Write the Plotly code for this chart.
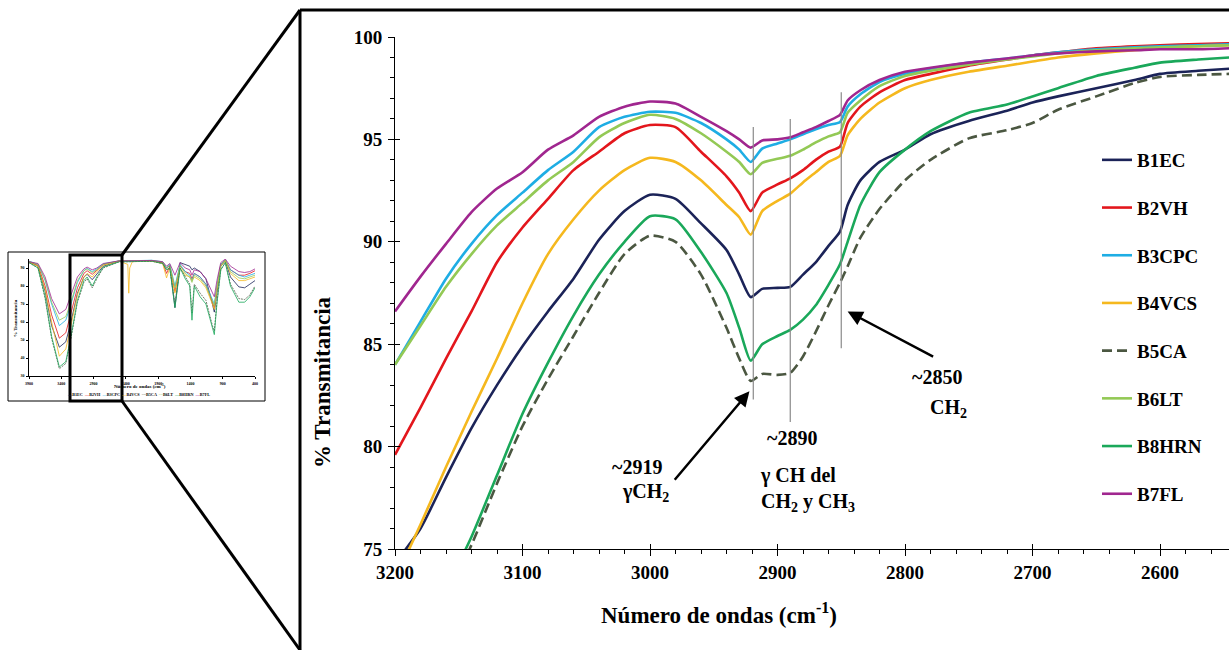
import plotly.graph_objects as go

W, H = 1229, 650

# ---- espectro ampliado (3200-2545 cm-1) ----
WN = [3200, 3180, 3160, 3140, 3120, 3100, 3080, 3060, 3040, 3020, 3000, 2980, 2960,
      2940, 2930, 2921, 2912, 2900, 2890, 2880, 2870, 2860, 2851, 2845, 2835, 2820,
      2800, 2780, 2750, 2720, 2700, 2680, 2650, 2620, 2600, 2570, 2545]

B1EC = [74.3, 76.0, 78.5, 80.9, 83.0, 84.9, 86.6, 88.2, 90.1, 91.5, 92.3, 92.1, 90.9,
        89.6, 88.4, 87.3, 87.7, 87.75, 87.8, 88.4, 89.0, 89.8, 90.5, 91.8, 93.0, 93.9,
        94.5, 95.25, 95.9, 96.4, 96.8, 97.1, 97.5, 97.9, 98.2, 98.35, 98.45]
B2VH = [79.6, 81.9, 84.3, 86.6, 89.0, 90.7, 92.1, 93.5, 94.4, 95.3, 95.7, 95.6, 94.4,
        93.2, 92.4, 91.5, 92.4, 92.8, 93.1, 93.5, 94.0, 94.4, 94.65, 95.8, 96.6, 97.3,
        97.9, 98.2, 98.6, 98.9, 99.1, 99.25, 99.45, 99.55, 99.6, 99.65, 99.7]
B3CPC = [84.0, 86.1, 88.2, 89.9, 91.3, 92.4, 93.5, 94.4, 95.6, 96.1, 96.35, 96.3, 95.8,
         95.0, 94.5, 93.9, 94.55, 94.8, 95.0, 95.25, 95.5, 95.7, 95.85, 96.6, 97.2, 97.8,
         98.2, 98.45, 98.75, 98.95, 99.1, 99.25, 99.4, 99.5, 99.55, 99.6, 99.65]
B4VCS = [73.5, 76.2, 79.0, 81.7, 84.3, 87.0, 89.4, 91.1, 92.5, 93.5, 94.1, 93.9, 93.0,
         91.8, 91.2, 90.35, 91.5, 92.0, 92.35, 92.9, 93.4, 93.9, 94.2, 95.2, 96.0, 96.8,
         97.5, 97.9, 98.3, 98.6, 98.8, 99.0, 99.2, 99.35, 99.45, 99.55, 99.6]
B5CA = [67.5, 70.0, 72.6, 75.2, 78.2, 81.0, 83.3, 85.4, 87.5, 89.4, 90.3, 90.0, 88.4,
        85.8, 84.3, 83.2, 83.55, 83.5, 83.6, 84.4, 85.6, 86.9, 88.0, 88.8, 90.2, 91.6,
        93.0, 94.0, 95.05, 95.45, 95.8, 96.45, 97.1, 97.75, 98.05, 98.15, 98.2]
B6LT = [84.0, 85.9, 87.8, 89.4, 90.8, 91.9, 93.0, 93.9, 95.1, 95.8, 96.2, 96.0, 95.3,
        94.4, 93.9, 93.3, 93.85, 94.05, 94.2, 94.5, 94.85, 95.15, 95.35, 96.3, 96.9, 97.6,
        98.1, 98.35, 98.65, 98.9, 99.05, 99.2, 99.35, 99.45, 99.5, 99.55, 99.6]
B8HRN = [67.9, 70.4, 73.0, 75.6, 78.6, 81.6, 84.1, 86.4, 88.4, 90.0, 91.25, 91.1, 89.5,
         87.5, 85.8, 84.2, 85.0, 85.4, 85.7, 86.2, 86.9, 87.9, 88.9, 90.0, 91.8, 93.4,
         94.5, 95.4, 96.3, 96.7, 97.1, 97.5, 98.1, 98.5, 98.75, 98.9, 99.0]
B7FL = [86.6, 88.3, 89.9, 91.45, 92.6, 93.4, 94.5, 95.2, 96.1, 96.6, 96.85, 96.75, 96.1,
        95.4, 95.0, 94.6, 94.95, 95.0, 95.1, 95.35, 95.6, 95.9, 96.2, 96.9, 97.4, 97.9,
        98.3, 98.5, 98.75, 98.95, 99.1, 99.2, 99.3, 99.35, 99.4, 99.4, 99.45]

# ---- espectro completo (miniatura) ----
IN_WN = [3900, 3760, 3650, 3550, 3430, 3330, 3250, 3150, 3050, 3000, 2920, 2850, 2750,
         2500, 2370, 2355, 2340, 2300, 2000, 1830, 1770, 1720, 1640, 1560, 1480, 1410,
         1376, 1340, 1250, 1160, 1060, 1030, 990, 930, 860, 780, 650, 560, 480, 400]
IN_B1EC = [93.5, 91, 77, 58, 46, 49, 60, 76, 85, 86.5, 83.5, 86.5, 91, 93.8, 93.8, 93.8,
           93.8, 93.8, 94, 93, 90, 91.5, 68, 93, 92, 91, 89, 90, 88, 84, 70, 65.5, 76,
           91, 94, 85, 79.5, 79, 81, 83]
IN_B2VH = [93.5, 91.5, 80, 64, 51, 54, 65, 79, 87, 88.5, 86.5, 88.5, 91.8, 94, 94, 94,
           94, 94, 94, 93, 87, 91, 77, 91, 88, 87, 84, 87, 85, 81, 71, 68, 79, 92, 94.5,
           89, 86, 86, 87, 88.5]
IN_B3CPC = [93.8, 92, 83, 70, 58, 61, 70, 82, 88.5, 89.8, 88, 89.5, 92.3, 94, 94, 94, 94,
            94, 94.3, 93.5, 90, 92, 80, 92, 88, 86, 83, 87, 85, 81, 72, 70, 80, 92, 94.5,
            89, 86, 85, 86, 87]
IN_B4VCS = [93.2, 91, 78, 60, 41, 45, 58, 75, 85, 87, 85, 88, 91.5, 93.8, 92, 76, 90,
            93.5, 93.8, 92.5, 84.5, 90, 76, 90, 86, 85, 83, 85, 83, 79, 70, 67, 78, 91,
            94, 87, 83, 83, 84, 85]
IN_B5CA = [93, 90, 73, 51, 34, 37, 51, 71, 82, 84, 79, 84, 90, 93.5, 93.5, 93.5, 93.5,
           93.5, 93.8, 92.5, 89, 90, 70, 90, 85, 81, 65, 81, 76, 72, 58, 55, 71, 89, 93,
           81, 73, 72.5, 75, 80]
IN_B6LT = [93.6, 92, 83.5, 71, 61, 63, 71, 83, 88.5, 89.5, 87.5, 89, 92, 94, 94, 94, 94,
           94, 94.2, 93.3, 90, 91.5, 79, 91.5, 87, 85, 82, 86, 84, 80, 71, 69, 79, 91.5,
           94.5, 88, 84.5, 84, 85, 86]
IN_B8HRN = [93, 90, 74, 52, 35, 38, 52, 72, 83, 85, 80, 85, 90.5, 93.5, 93.5, 93.5, 93.5,
            93.5, 93.8, 92.5, 89, 90, 68, 90, 84, 80, 61, 80, 74, 70, 56, 53, 70, 89, 93,
            80, 71, 71, 74, 79]
IN_B7FL = [93.5, 92.5, 85, 73, 64.5, 67, 75, 85, 89.5, 90.5, 89, 90, 92.5, 94, 94, 94, 94,
           94, 94.2, 93.5, 91, 92.5, 86, 93, 90, 89, 86, 89, 88, 84, 76, 74, 83, 93, 95,
           91, 88, 87.5, 88, 89.5]

NAMES = ["B1EC", "B2VH", "B3CPC", "B4VCS", "B5CA", "B6LT", "B8HRN", "B7FL"]
MAIN = [B1EC, B2VH, B3CPC, B4VCS, B5CA, B6LT, B8HRN, B7FL]
INSET = [IN_B1EC, IN_B2VH, IN_B3CPC, IN_B4VCS, IN_B5CA, IN_B6LT, IN_B8HRN, IN_B7FL]
COLORS = ["#1b2358", "#e3161c", "#1eade4", "#f5b81e", "#4b5741", "#93c955", "#1aa85a", "#a0268f"]
PEAKS = [2919, 2890, 2850]
PEAK_SPAN = [(82.3, 95.6), (81.2, 96.0), (84.8, 97.3)]

SERIF = "Liberation Serif"


def px(x):
    return x / W


def py(y):
    return 1 - y / H


def bfont(size, color="black"):
    return dict(family=SERIF, size=size, color=color, weight="bold")


fig = go.Figure()

for name, vals, col in zip(NAMES, MAIN, COLORS):
    fig.add_trace(go.Scatter(
        x=WN, y=vals, mode="lines", name=name, legendgroup=name,
        line=dict(color=col, width=2.6, shape="spline", smoothing=0.6,
                  dash="10px,5px" if name == "B5CA" else "solid"),
        hoverinfo="skip"))

for name, vals, col in zip(NAMES, INSET, COLORS):
    fig.add_trace(go.Scatter(
        x=IN_WN, y=vals, mode="lines", xaxis="x2", yaxis="y2", showlegend=False,
        line=dict(color=col, width=0.8, dash="2px,1px" if name == "B5CA" else "solid"),
        hoverinfo="skip"))

# traza vacia para los ticks interiores (marcas que cruzan el eje)
fig.add_trace(go.Scatter(x=[None], y=[None], xaxis="x3", yaxis="y3",
                         showlegend=False, hoverinfo="skip"))

X_END = 3200 - (W - 395) / 1.275

shapes = [
    dict(type="line", xref="paper", yref="paper", x0=px(300), y0=py(10), x1=1, y1=py(10),
         line=dict(color="black", width=3)),
    dict(type="line", xref="paper", yref="paper", x0=px(300), y0=py(10), x1=px(300), y1=0,
         line=dict(color="black", width=3)),
    dict(type="line", xref="paper", yref="paper", x0=px(122), y0=py(255), x1=px(300), y1=py(10),
         line=dict(color="black", width=3)),
    dict(type="line", xref="paper", yref="paper", x0=px(122), y0=py(401), x1=px(300), y1=0,
         line=dict(color="black", width=3)),
    dict(type="rect", xref="paper", yref="paper", x0=px(8), y0=py(401), x1=px(265), y1=py(252),
         line=dict(color="black", width=1)),
    dict(type="rect", xref="paper", yref="paper", x0=px(70), y0=py(401), x1=px(122), y1=py(255),
         line=dict(color="black", width=3)),
]
for p, (lo, hi) in zip(PEAKS, PEAK_SPAN):
    shapes.append(dict(type="line", xref="x", yref="y", x0=p, x1=p, y0=lo, y1=hi,
                       line=dict(color="#8a8a8a", width=1.2)))


def note(x, y, text, size=20, angle=0):
    return dict(xref="paper", yref="paper", x=px(x), y=py(y), text=text, showarrow=False,
                font=bfont(size), xanchor="center", yanchor="middle", textangle=angle)


legend_inset = ("<span style='color:#1b2358'>—</span>B1EC  <span style='color:#e3161c'>—</span>B2VH  "
                "<span style='color:#1eade4'>—</span>B3CPC  <span style='color:#f5b81e'>—</span>B4VCS  "
                "<span style='color:#4b5741'>---</span>B5CA  <span style='color:#93c955'>---</span>B6LT  "
                "<span style='color:#1aa85a'>—</span>B8HRN  <span style='color:#a0268f'>—</span>B7FL")

annotations = [
    note(637, 467, "~2919"),
    note(645, 492, "γCH<sub>2</sub>"),
    note(792, 438, "~2890"),
    note(798, 475, "γ CH del"),
    note(808, 502, "CH<sub>2</sub> y CH<sub>3</sub>"),
    note(937, 377, "~2850"),
    note(948, 408, "CH<sub>2</sub>"),
    dict(xref="x", yref="y", x=2922, y=82.7, ax=-76, ay=90, text="", showarrow=True,
         arrowhead=2, arrowsize=1.2, arrowwidth=2.5, arrowcolor="black"),
    dict(xref="x", yref="y", x=2845, y=86.6, ax=87, ay=46, text="", showarrow=True,
         arrowhead=2, arrowsize=1.2, arrowwidth=2.5, arrowcolor="black"),
    note(322, 382, "% Transmitancia", size=23, angle=-90),
    note(719, 613, "Número de ondas (cm<sup>-1</sup>)", size=23),
    # textos de la miniatura
    note(15, 318, "% Transmitancia", size=5, angle=-90),
    note(140, 386, "Número de ondas (cm<sup>-1</sup>)", size=5),
    note(138, 394, legend_inset, size=4.2),
]

fig.update_layout(
    width=W, height=H, margin=dict(l=0, r=0, t=0, b=0, autoexpand=False),
    paper_bgcolor="white", plot_bgcolor="rgba(0,0,0,0)",
    font=dict(family=SERIF, color="black"),
    showlegend=True,
    legend=dict(x=px(1097), y=py(141), xanchor="left", yanchor="top",
                font=bfont(19), tracegroupgap=20, traceorder="grouped",
                bgcolor="rgba(0,0,0,0)", itemwidth=30),
    xaxis=dict(domain=[px(395), 1], range=[3200, X_END], anchor="y",
               dtick=100, tick0=3200, ticks="outside", ticklen=6, tickwidth=1, tickcolor="black",
               minor=dict(dtick=20, ticks="outside", ticklen=4, tickcolor="black", tickwidth=1),
               showline=True, linecolor="black", linewidth=1, showgrid=False, zeroline=False,
               tickfont=bfont(19), ticklabelstandoff=0, automargin=False),
    yaxis=dict(domain=[py(549), py(37)], range=[75, 100], anchor="x",
               dtick=5, tick0=75, ticks="outside", ticklen=6, tickwidth=1, tickcolor="black",
               minor=dict(dtick=1, ticks="outside", ticklen=4, tickcolor="black", tickwidth=1),
               showline=True, linecolor="black", linewidth=1, showgrid=False, zeroline=False,
               tickfont=bfont(19), ticklabelstandoff=2, automargin=False),
    xaxis3=dict(overlaying="x", anchor="y", range=[3200, X_END], dtick=100, tick0=3200,
                ticks="inside", ticklen=5, tickcolor="black", showticklabels=False,
                showline=False, showgrid=False, zeroline=False, automargin=False),
    yaxis3=dict(overlaying="y", anchor="x", range=[75, 100], dtick=5, tick0=75,
                ticks="inside", ticklen=5, tickcolor="black", showticklabels=False,
                showline=False, showgrid=False, zeroline=False, automargin=False),
    xaxis2=dict(domain=[px(29), px(255)], range=[3900, 400], anchor="y2",
                tickvals=[3900, 3400, 2900, 2400, 1900, 1400, 900, 400],
                ticks="outside", ticklen=2, tickwidth=0.5, tickcolor="black",
                showline=True, linecolor="black", linewidth=0.6, showgrid=False, zeroline=False,
                tickfont=bfont(4), ticklabelstandoff=1, automargin=False),
    yaxis2=dict(domain=[py(376), py(259)], range=[30, 95], anchor="x2",
                tickvals=[30, 40, 50, 60, 70, 80, 90],
                ticks="outside", ticklen=2, tickwidth=0.5, tickcolor="black",
                showline=True, linecolor="black", linewidth=0.6, showgrid=False, zeroline=False,
                tickfont=bfont(4), ticklabelstandoff=1, automargin=False),
    shapes=shapes,
    annotations=annotations,
)

# la pagina por defecto deja 8px de margen en <body>
fig.write_html("out.html", config={"displayModeBar": False},
               post_script="document.body.style.margin='0';")
